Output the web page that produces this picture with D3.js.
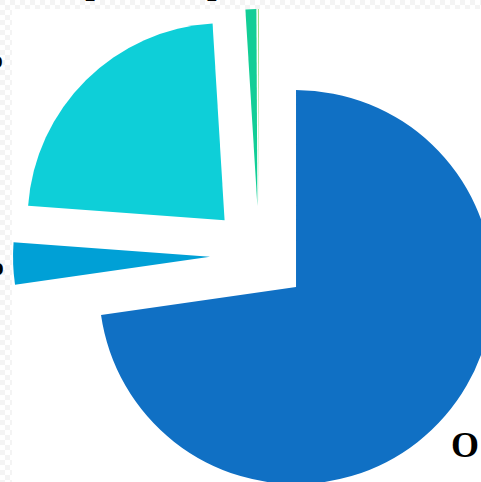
<!DOCTYPE html>
<html>
<head>
<meta charset="utf-8">
<script src="https://cdn.jsdelivr.net/npm/d3@7/dist/d3.min.js"></script>
<style>
  html, body { margin: 0; padding: 0; background: #fff; }
  svg { display: block; }
</style>
</head>
<body>
<script>
// ---- data ----
const categories = ["Other", "Type C", "Type B", "Type D", "Type E"];
const values = [72.73, 3.44, 22.86, 0.89, 0.08];
const colors = ["#1070C4", "#00A0D6", "#0ECFD8", "#12CE96", "#94D672"];
const labelTexts = ["O 72.73%", "Type C 3.44%", "Type B 22.86%", "", ""];
const titleText = "Sample Composition Data, 2022";

// ---- layout ----
const W = 481, H = 482;
const cx = 259, cy = 255, R = 197, pull = 49;

const svg = d3.select("body").append("svg").attr("width", W).attr("height", H);
svg.append("rect").attr("width", W).attr("height", H).attr("fill", "#fff");

// faint transparency checker around the top and left margins
const defs = svg.append("defs");
const pat = defs.append("pattern").attr("id", "chk").attr("width", 10).attr("height", 10)
  .attr("patternUnits", "userSpaceOnUse");
pat.append("rect").attr("width", 10).attr("height", 10).attr("fill", "#fff");
pat.append("rect").attr("width", 5).attr("height", 5).attr("fill", "#f4f4f4");
pat.append("rect").attr("x", 5).attr("y", 5).attr("width", 5).attr("height", 5).attr("fill", "#f4f4f4");
svg.append("rect").attr("x", 0).attr("y", 0).attr("width", W).attr("height", 9).attr("fill", "url(#chk)");
svg.append("rect").attr("x", 0).attr("y", 0).attr("width", 12).attr("height", H).attr("fill", "url(#chk)");

// title (mostly cropped above the view)
svg.append("text").attr("x", 21).attr("y", -6)
  .attr("font-family", "Liberation Serif, Times New Roman, serif")
  .attr("font-weight", "bold").attr("font-size", 34).attr("fill", "#000")
  .text(titleText);

const data = categories.map((c, i) => ({ name: c, value: values[i], color: colors[i], label: labelTexts[i] }));
const pie = d3.pie().sort(null).value(d => d.value);
const arcs = pie(data);
const arc = d3.arc().innerRadius(0).outerRadius(R);

const g = svg.append("g").attr("transform", `translate(${cx},${cy})`);
g.selectAll("path").data(arcs).enter().append("path")
  .attr("d", arc)
  .attr("fill", d => d.data.color)
  .attr("transform", d => {
    const a = (d.startAngle + d.endAngle) / 2;
    return `translate(${Math.sin(a) * pull},${-Math.cos(a) * pull})`;
  });

// labels (outer, partially cropped)
const font = "Liberation Serif, Times New Roman, serif";
const labelPos = [
  { x: 451, y: 457, anchor: "start", size: 36 },
  { x: 6, y: 275, anchor: "end", size: 34 },
  { x: 5, y: 68, anchor: "end", size: 34 }
];
labelPos.forEach((p, i) => {
  svg.append("text").attr("x", p.x).attr("y", p.y)
    .attr("text-anchor", p.anchor)
    .attr("font-family", font).attr("font-weight", "bold").attr("font-size", p.size)
    .attr("fill", "#000").text(data[i].label);
});
</script>
</body>
</html>
